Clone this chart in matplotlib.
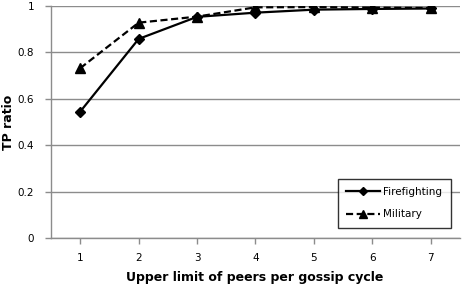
import matplotlib
matplotlib.use("Agg")
import matplotlib.pyplot as plt

categories = [1, 2, 3, 4, 5, 6, 7]
firefighting = [0.544, 0.857, 0.952, 0.970, 0.983, 0.986, 0.988]
military = [0.731, 0.927, 0.953, 0.993, 0.994, 0.992, 0.990]
yticks = [0, 0.2, 0.4, 0.6, 0.8, 1]
ytick_labels = ["0", "0.2", "0.4", "0.6", "0.8", "1"]

plt.rcParams['font.family'] = ['DejaVu Sans']
fig = plt.figure(figsize=(4.62, 2.88), dpi=100)
ax = fig.add_axes([51/462, 1 - 238/288, (460-51)/462, (238-5.7)/288])

ax.plot(categories, firefighting, color='black', lw=1.6, marker='D', ms=5.5,
        label='Firefighting', zorder=3)
ax.plot(categories, military, color='black', lw=1.6, ls=(0, (3.2, 1.6)), marker='^', ms=7,
        label='Military', zorder=3)

ax.set_xlim(0.5, 7.5)
ax.set_ylim(0, 1)
ax.set_xticks(categories)
ax.set_xticklabels([str(c) for c in categories])
ax.set_yticks(yticks)
ax.set_yticklabels(ytick_labels)
ax.grid(axis='y', color='#8c8c8c', lw=1)
ax.set_axisbelow(True)
for s in ['top', 'right']:
    ax.spines[s].set_visible(False)
for s in ['left', 'bottom']:
    ax.spines[s].set_color('#8c8c8c')
    ax.spines[s].set_linewidth(1)
ax.tick_params(axis='both', colors='#8c8c8c', labelcolor='black', labelsize=7.5,
               length=4, width=1, direction='out')
ax.tick_params(axis='x', pad=7)
ax.tick_params(axis='y', pad=8)

ax.set_xlabel('Upper limit of peers per gossip cycle', fontsize=9, fontweight='bold')
ax.xaxis.set_label_coords(255/462, 1 - 278/288, transform=fig.transFigure)
ax.set_ylabel('TP ratio', fontsize=9, fontweight='bold')
ax.yaxis.set_label_coords(9/462, 1 - 122/288, transform=fig.transFigure)
ax.yaxis.label.set_va('center')
ax.xaxis.label.set_va('center')

leg = ax.legend(loc='lower right', bbox_to_anchor=(456/462, 1-233/288), bbox_transform=fig.transFigure,
                frameon=True, fancybox=False, edgecolor='black', fontsize=7.5,
                handlelength=3.3, labelspacing=1.2, borderpad=0.8, handletextpad=0.3,
                markerscale=0.8)
leg.get_frame().set_linewidth(1)

fig.savefig('out.png', dpi=100)
